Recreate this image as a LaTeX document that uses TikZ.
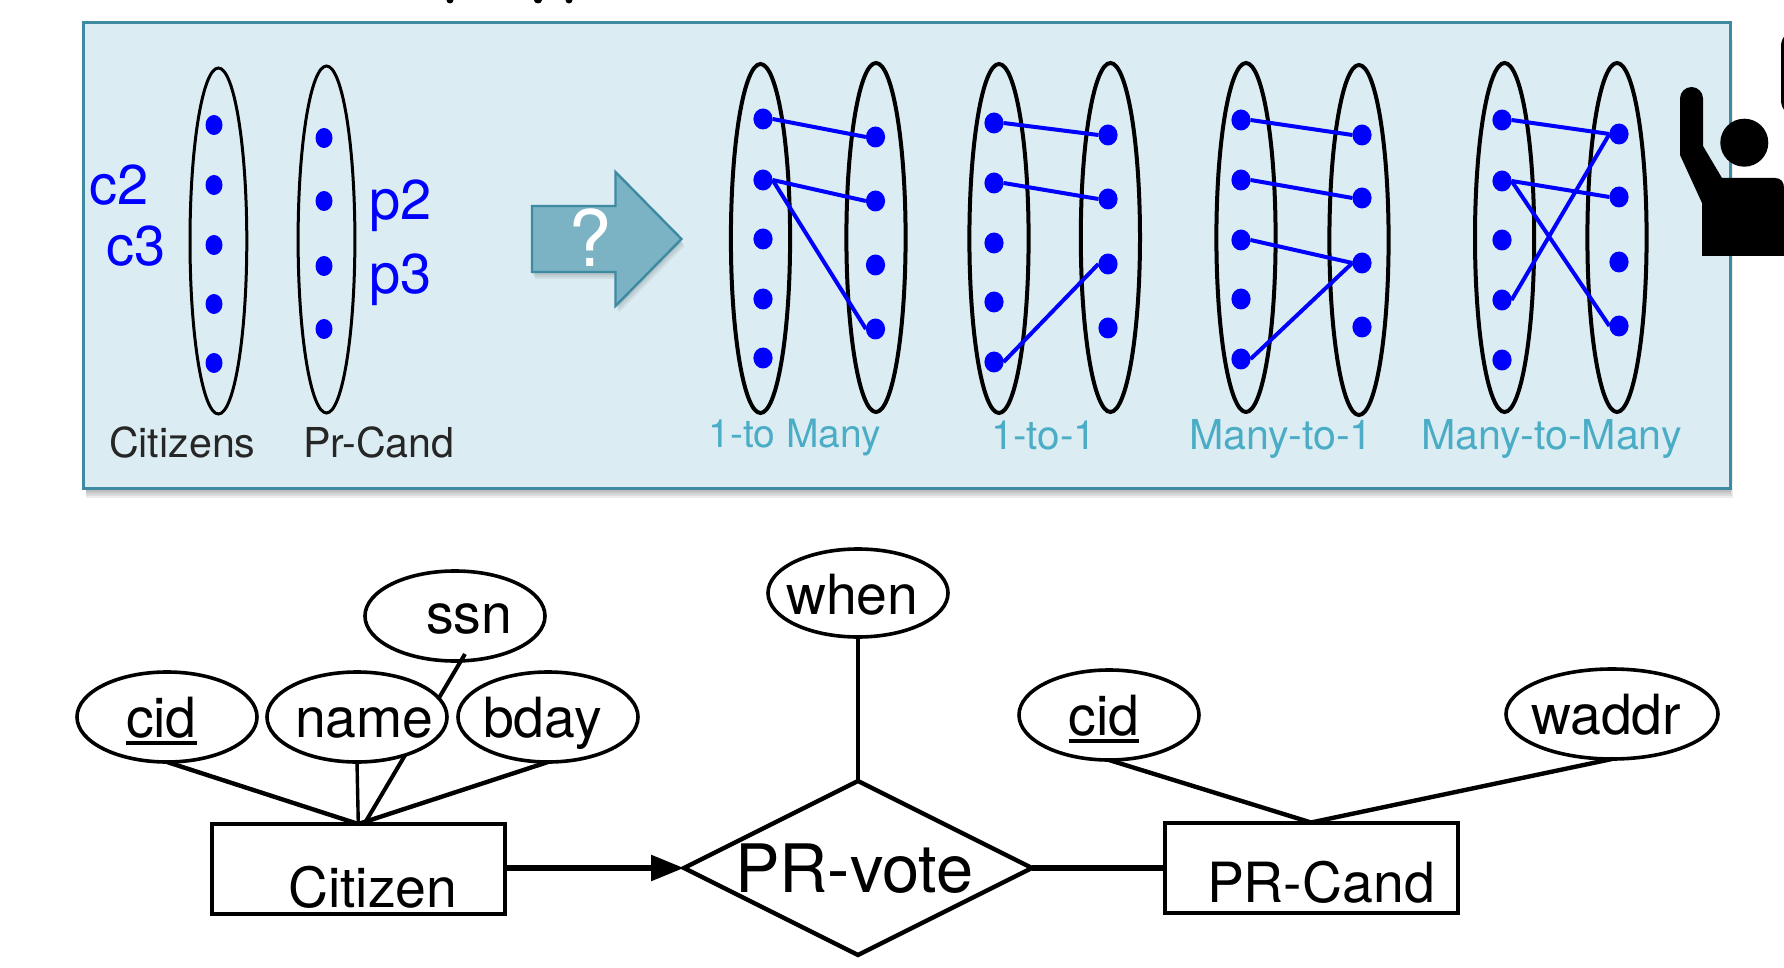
\documentclass[tikz,border=0pt]{standalone}
\usepackage{fontspec}
\setmainfont{TeX Gyre Heros}
\usetikzlibrary{shapes.geometric,arrows.meta}
\definecolor{panelfill}{HTML}{DBEDF3}
\definecolor{panelline}{HTML}{3F8AA3}
\definecolor{arrowfill}{HTML}{7BB3C4}
\definecolor{tealtext}{HTML}{4BACC6}
\definecolor{graytext}{HTML}{262626}
\newcommand\fsz[1]{\fontsize{#1}{#1}\selectfont}
\newcommand\ulmark[1]{\setbox0\hbox{#1}\rlap{\vrule width \wd0 height -2pt depth 4pt}#1}
\tikzset{
  lbl/.style={anchor=base west,inner sep=0pt,outer sep=0pt},
  setlabel/.style={lbl,text=blue,font=\fsz{28}},
  graylabel/.style={lbl,text=graytext,font=\fsz{20.6}},
  teallabel/.style={lbl,text=tealtext,font=\fsz{20.6}},
  erlabel/.style={lbl,text=black,font=\fsz{27.7}},
  setthin/.style={draw=black,line width=1.5pt,ellipse,inner sep=0pt,outer sep=0pt},
  setthick/.style={draw=black,line width=2pt,ellipse,inner sep=0pt,outer sep=0pt,minimum width=29.6pt},
  dotsmall/.style={fill=blue,ellipse,inner sep=0pt,outer sep=0pt,minimum width=8.5pt,minimum height=10pt},
  dotbig/.style={fill=blue,ellipse,inner sep=0pt,outer sep=0pt,minimum width=9.6pt,minimum height=10.5pt},
  maps/.style={draw=blue,line width=2pt},
  attr/.style={draw=black,fill=white,line width=1.8pt,ellipse,inner sep=0pt,outer sep=0pt,minimum width=90pt,minimum height=45pt},
  entity/.style={draw=black,line width=2pt,rectangle,inner sep=0pt,outer sep=0pt,minimum width=146.5pt,minimum height=45pt},
  link/.style={draw=black,line width=2.2pt},
  thinlink/.style={draw=black,line width=1.7pt},
  ink/.style={fill=black,draw=none},
}
\newcommand\bigdots[3]{% prefix, x, list of y
  \foreach \yy [count=\ii] in {#3} {\node[dotbig] (#1\ii) at (#2,\yy) {};}}
\newcommand\smalldots[3]{%
  \foreach \yy [count=\ii] in {#3} {\node[dotsmall] (#1\ii) at (#2,\yy) {};}}
\begin{document}
\begin{tikzpicture}[x=0.5pt,y=-0.5pt]
\useasboundingbox (0,0) rectangle (1784,968);
\clip (0,0) rectangle (1784,968);
\fill[white] (0,0) rectangle (1784,968);
% clipped remains of a heading above the picture
\fill[black] (450,0) ellipse (3.5 and 3.5);
\fill[black] (538,0) ellipse (4 and 3.5);
\fill[black] (569,0) ellipse (3.5 and 3.5);
% panel with its soft shadow
\foreach \k in {1,...,5}{
  \fill[black,opacity=0.07] (86,40) rectangle (1729+0.8*\k,488+2*\k);
}
\fill[panelfill,draw=panelline,line width=1.5pt] (83,23) rectangle (1730,488);
% left pair
\node[setthin,minimum width=28.4pt,minimum height=173pt] (citset) at (218.4,241) {};
\node[setthin,minimum width=28.4pt,minimum height=173.5pt] (candset) at (326.5,239.5) {};
\smalldots{ca}{214}{125,185,245,304,363}
\smalldots{pa}{324}{138,201,266,329}
\node[setlabel] (c2) at (90,205) {c2};
\node[setlabel] (c3) at (106,266) {c3};
\node[setlabel] (p2) at (369,220) {p2};
\node[setlabel] (p3) at (369,294) {p3};
\node[graylabel] (citizens) at (109,457) {Citizens};
\node[graylabel] (prcand) at (303,457) {Pr-Cand};
% block arrow
\foreach \k in {1,2,3}{
  \fill[black,opacity=0.06] (532+\k,206+2*\k+1) -- (615.5+\k,206+2*\k+1) -- (615.5+\k,172+2*\k+1) -- (681.5+\k,239+2*\k+1) -- (615.5+\k,306+2*\k+1) -- (615.5+\k,272+2*\k+1) -- (532+\k,272+2*\k+1) -- cycle;
}
\draw[fill=arrowfill,draw=panelline,line width=1.2pt,line join=miter] (532,206) -- (615.5,206) -- (615.5,172) -- (681.5,239) -- (615.5,306) -- (615.5,272) -- (532,272) -- cycle;
\node[lbl,text=white,font=\fsz{39}] (qmark) at (568,267) {?};
% 1-to Many
\node[setthick,minimum height=174.5pt] (g1l) at (760.5,238.5) {};
\node[setthick,minimum height=174.5pt] (g1r) at (876,237.5) {};
\bigdots{ga}{763}{119,180,239,299,358}
\bigdots{gb}{875.5}{137,201,265,329}
\draw[maps] (ga1.east) -- (gb1.west);
\draw[maps] (ga2.east) -- (gb2.west);
\draw[maps] (ga2.east) -- (gb4.west);
\node[teallabel,font=\fsz{19.5}] (l1) at (708.5,447) {1-to Many};
% 1-to-1
\node[setthick,minimum height=174.5pt] (g2l) at (999,238.5) {};
\node[setthick,minimum height=174.5pt] (g2r) at (1110.4,237.5) {};
\bigdots{ha}{994}{123,183,243,302,362}
\bigdots{hb}{1108}{135,199,264,328}
\draw[maps] (ha1.east) -- (hb1.west);
\draw[maps] (ha2.east) -- (hb2.west);
\draw[maps] (ha5.east) -- (hb3.west);
\node[teallabel,font=\fsz{20.2}] (l2) at (991,449) {1-to-1};
% Many-to-1
\node[setthick,minimum height=174.5pt] (g3l) at (1246,237.5) {};
\node[setthick,minimum height=175pt] (g3r) at (1359,240) {};
\bigdots{ia}{1241}{120,180,240,299,359}
\bigdots{ib}{1362}{135,198,263,327}
\draw[maps] (ia1.east) -- (ib1.west);
\draw[maps] (ia2.east) -- (ib2.west);
\draw[maps] (ia3.east) -- (ib3.west);
\draw[maps] (ia5.east) -- (ib3.west);
\node[teallabel] (l3) at (1189,449) {Many-to-1};
% Many-to-Many
\node[setthick,minimum height=174.5pt] (g4l) at (1504.6,237.5) {};
\node[setthick,minimum height=174.5pt] (g4r) at (1617,237.5) {};
\bigdots{ja}{1502}{120,181,240,300,360}
\bigdots{jb}{1619}{134,197,262,326}
\draw[maps] (ja1.east) -- (jb1.west);
\draw[maps] (ja2.east) -- (jb2.west);
\draw[maps] (ja2.east) -- (jb4.west);
\draw[maps] (ja4.east) -- (jb1.west);
\node[teallabel] (l4) at (1421,449) {Many-to-Many};
% raised-hand figure
\fill[ink,rounded corners=8pt] (1781,30) -- (1781,116.5) -- (1800,116.5) -- (1800,30) -- cycle;
\fill[ink] (1744.3,142.7) circle (24);
\path[ink] (1680,98.5) arc[start angle=180,end angle=360,radius=11.5] -- (1703,146) -- (1722,178) -- (1775,178)
  .. controls (1781,178) and (1784,182) .. (1784,188) -- (1784,256) -- (1702,256) -- (1702,203) -- (1680,155) -- cycle;
% ER diagram
\node[entity] (citizen) at (358.3,869) {};
\node[entity] (prc) at (1311,867.5) {};
\node[draw=black,line width=2.2pt,diamond,aspect=2,inner sep=0pt,outer sep=0pt,minimum width=174pt,minimum height=87pt] (vote) at (858,868) {};
\node[attr] (ssn) at (455,616) {};
\coordinate (ssnfoot) at (465,654);
\draw[link,line width=2pt] (ssnfoot) -- ([xshift=3pt]citizen.north);
\node[attr] (cid) at (167,717) {};
\node[attr] (name) at (357,717) {};
\node[attr] (bday) at (548,717) {};
\node[attr,minimum height=44pt] (when) at (858,593) {};
\node[attr] (cidb) at (1109,715) {};
\node[attr,minimum width=106pt] (waddr) at (1612,714) {};
\node[erlabel] (ssnt) at (426,633) {ssn};
\node[erlabel] (cidt) at (126,737) {\ulmark{cid}};
\node[erlabel] (namet) at (295,737) {name};
\node[erlabel] (bdayt) at (483,737) {bday};
\node[erlabel] (whent) at (786,614) {when};
\node[erlabel] (citizent) at (288,907) {Citizen};
\node[erlabel] (prct) at (1207,902) {PR-Cand};
\node[erlabel] (cidbt) at (1068.5,735) {\ulmark{cid}};
\node[erlabel] (waddrt) at (1531,734) {waddr};
\node[lbl,text=black,font=\fsz{33.4}] (votet) at (735,892) {PR-vote};
\draw[link] (cid.south) -- (citizen.north);
\draw[thinlink] (name.south) -- (citizen.north);
\draw[link] (bday.south) -- (citizen.north);
\draw[link,line width=2pt] (when.south) -- (vote.north);
\draw[link,line width=2.8pt,-{Triangle[length=16.5pt,width=12.5pt]}] (citizen.east |- vote.west) -- (vote.west);
\draw[link,line width=2.6pt] (vote.east) -- (prc.west |- vote.east);
\draw[link] (cidb.south) -- (prc.north);
\draw[link] (waddr.south) -- (prc.north);
\end{tikzpicture}
\end{document}
